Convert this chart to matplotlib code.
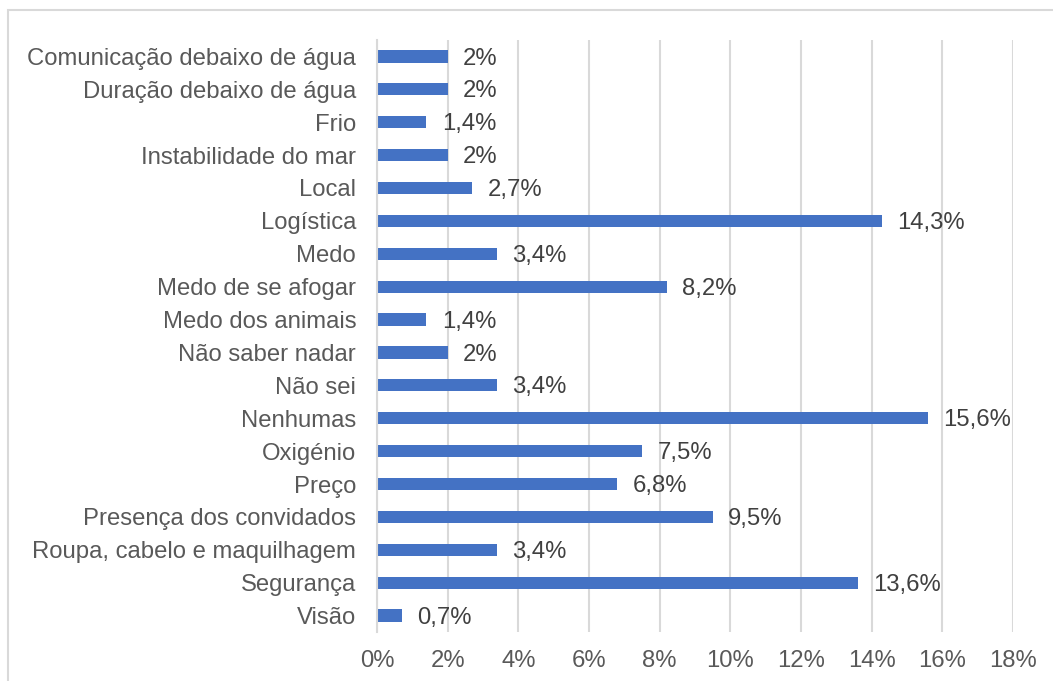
import matplotlib
matplotlib.use("Agg")
import matplotlib.pyplot as plt
from matplotlib.patches import Rectangle

categories = ["Comunicação debaixo de água", "Duração debaixo de água", "Frio",
              "Instabilidade do mar", "Local", "Logística", "Medo",
              "Medo de se afogar", "Medo dos animais", "Não saber nadar",
              "Não sei", "Nenhumas", "Oxigénio", "Preço",
              "Presença dos convidados", "Roupa, cabelo e maquilhagem",
              "Segurança", "Visão"]
values = [2.0, 2.0, 1.4, 2.0, 2.7, 14.3, 3.4, 8.2, 1.4, 2.0, 3.4, 15.6,
          7.5, 6.8, 9.5, 3.4, 13.6, 0.7]
value_labels = ["2%", "2%", "1,4%", "2%", "2,7%", "14,3%", "3,4%", "8,2%",
                "1,4%", "2%", "3,4%", "15,6%", "7,5%", "6,8%", "9,5%",
                "3,4%", "13,6%", "0,7%"]
xticks = [0, 2, 4, 6, 8, 10, 12, 14, 16, 18]
xtick_labels = ["0%", "2%", "4%", "6%", "8%", "10%", "12%", "14%", "16%", "18%"]

plt.rcParams['font.family'] = ['Liberation Sans', 'DejaVu Sans']

W, H = 1053, 681
fig = plt.figure(figsize=(W / 100, H / 100), dpi=100)
fig.patches.append(Rectangle((8 / W, -0.1), 1.2, 1.1 - 10 / H,
                             transform=fig.transFigure, fill=False,
                             edgecolor="#d9d9d9", linewidth=1.5))

ax = fig.add_axes([377 / W, 1 - 632 / H, (1013 - 377) / W, (632 - 40) / H])
y = list(range(len(categories)))
ax.barh(y, values, height=0.37, color="#4472C4", zorder=3)
ax.set_ylim(len(categories) - 0.5, -0.5)
ax.set_xlim(0, 18)
ax.set_xticks(xticks)
ax.set_xticklabels(xtick_labels)
ax.set_yticks(y)
ax.set_yticklabels(categories)
ax.tick_params(axis="both", length=0, labelsize=17.2, colors="#595959")
ax.tick_params(axis="y", pad=15)
ax.tick_params(axis="x", pad=13)
ax.grid(axis="x", color="#d9d9d9", linewidth=1.5, zorder=0)
for s in ["top", "right", "bottom"]:
    ax.spines[s].set_visible(False)
ax.spines["left"].set_color("#d9d9d9")
ax.spines["left"].set_linewidth(1.5)
ax.spines["left"].set_zorder(4)

for yi, v, lab in zip(y, values, value_labels):
    ax.annotate(lab, (v, yi), xytext=(11, -1.5), textcoords="offset points",
                va="center", ha="left", fontsize=17.2, color="#404040")

fig.savefig("out.png", dpi=100)
